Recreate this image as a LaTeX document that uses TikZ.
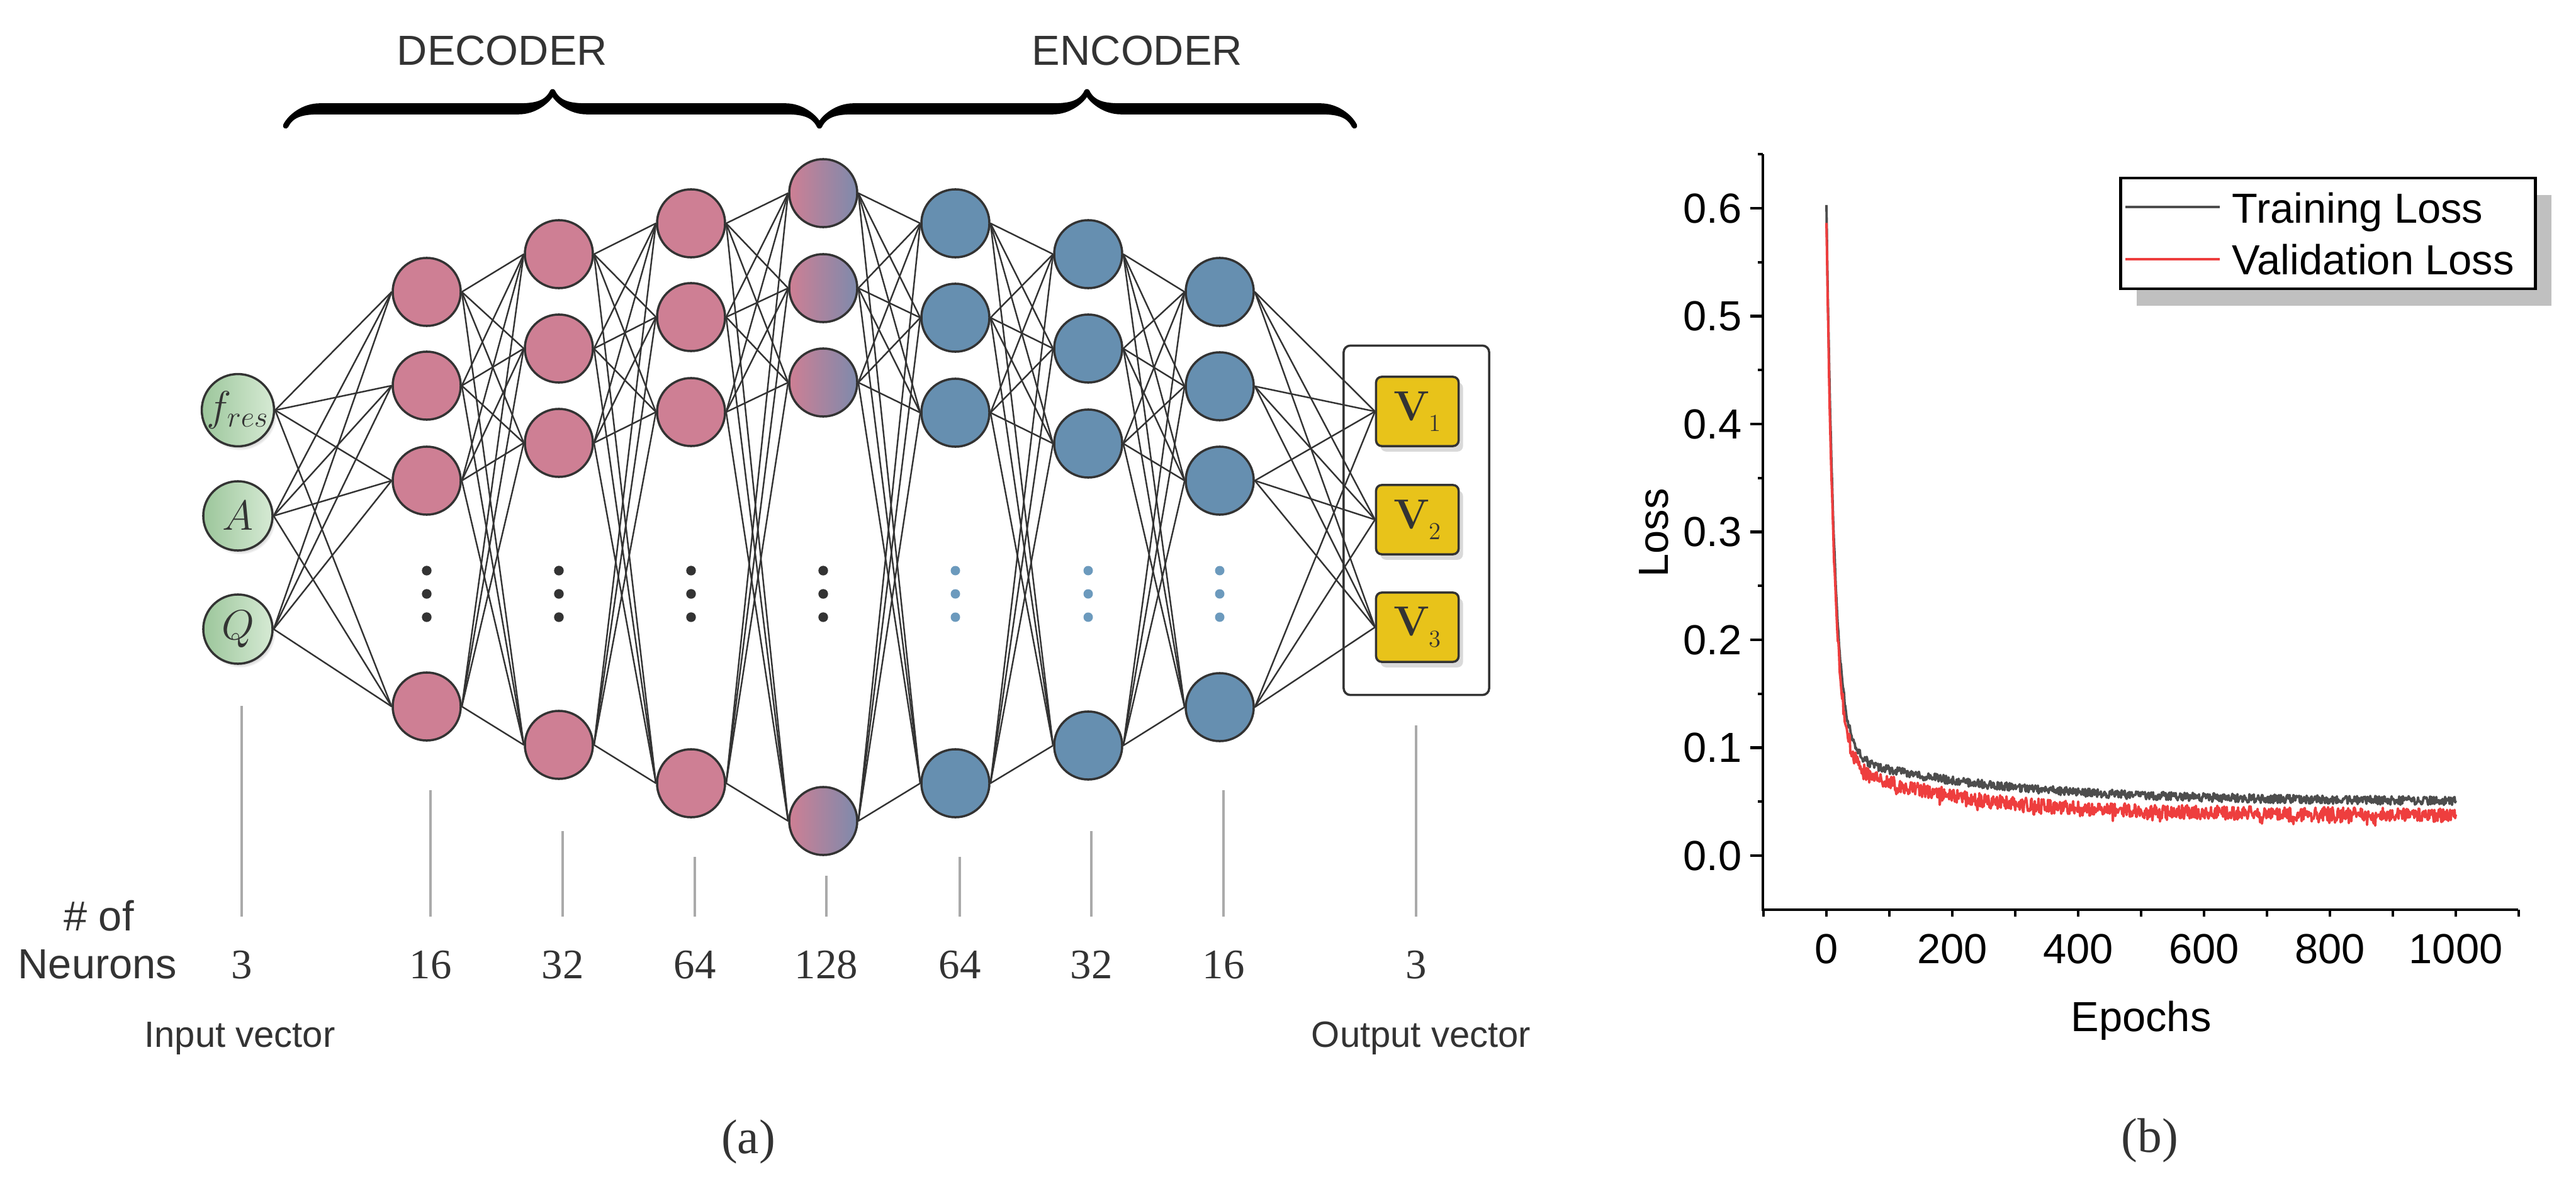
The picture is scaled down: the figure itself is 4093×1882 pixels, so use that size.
\RequirePackage{fix-cm}
\documentclass[tikz,border=0pt]{standalone}
\usepackage{amssymb, amsmath}
\usepackage{fontspec}
\usepackage{tikz}
\usetikzlibrary{decorations.pathreplacing,calligraphy,shadows}
\newfontfamily\sansfont{Liberation Sans}
\newfontfamily\capfont{Liberation Serif}
\definecolor{darkline}{HTML}{333333}
\definecolor{decpink}{HTML}{CE7F94}
\definecolor{encblue}{HTML}{668FB0}
\definecolor{midblue}{HTML}{7E8AAC}
\definecolor{ingreenL}{HTML}{9CC69B}
\definecolor{ingreenR}{HTML}{D6EAD4}
\definecolor{outyellow}{HTML}{E8C31A}
\definecolor{dotblue}{HTML}{6C9ABD}
\definecolor{guidegray}{HTML}{AAAAAA}
\definecolor{trainloss}{HTML}{4D4D4D}
\definecolor{valloss}{HTML}{EE3E3E}
\definecolor{legshadow}{HTML}{C0C0C0}
\newcommand{\vlabel}[1]{\textbf{V}\raisebox{-5pt}{\fontsize{11}{12}\selectfont #1}}
\tikzset{
  neuron/.style={circle, draw=darkline, line width=1pt, minimum size=1.08cm, inner sep=0pt},
  decneuron/.style={neuron, fill=decpink},
  encneuron/.style={neuron, fill=encblue},
  midneuron/.style={neuron, left color=decpink, right color=midblue},
  inneuron/.style={neuron, minimum size=1.1cm, left color=ingreenL, right color=ingreenR, text=darkline,
    font=\fontsize{19}{21}\selectfont,
    circular drop shadow={shadow xshift=1pt, shadow yshift=-1.5pt, shadow scale=1.02, opacity=0.45}},
  outbox/.style={draw=darkline, line width=1pt, fill=outyellow, rounded corners=2.5pt, text=darkline,
    minimum width=1.31cm, minimum height=1.1cm, inner sep=0pt, font=\fontsize{19}{22}\selectfont,
    drop shadow={shadow xshift=2pt, shadow yshift=-2.5pt, opacity=0.3}},
  link/.style={darkline, line width=0.7pt},
  guide/.style={guidegray, line width=1.3pt},
  lbl/.style={inner sep=0pt, text=darkline, font=\sansfont\fontsize{19}{22}\selectfont},
  cnt/.style={inner sep=0pt, anchor=base, text=darkline, font=\capfont\fontsize{19}{23}\selectfont},
  axlbl/.style={inner sep=0pt, font=\sansfont\fontsize{19}{22}\selectfont},
}
\begin{document}
\begin{tikzpicture}[x=0.01cm, y=-0.01cm]
\useasboundingbox (0,0) rectangle (4093,1882);
\def\ybase{1555}
%brace
\draw[decorate, decoration={calligraphic brace, amplitude=0.54cm}, line width=5pt, darkline] (454,200) -- (1302,200);
\draw[decorate, decoration={calligraphic brace, amplitude=0.54cm}, line width=5pt, darkline] (1302,200) -- (2152,200);
\node[lbl] (dec) at (798,80) {DECODER};
\node[lbl] (enc) at (1807,80) {ENCODER};
%input
\node[inneuron] (x1) at (378,652) {$f_{res}$};
\node[inneuron] (x2) at (378,820) {$A$};
\node[inneuron] (x3) at (378,1000) {$Q$};
%hidden layers
\foreach \l/\x/\ya/\yb/\yc/\yd/\sty in {1/678/464/613/764/1123/decneuron, 2/888/404/554/704/1184/decneuron,
    3/1098/355/504/655/1245/decneuron, 4/1308/307/458/608/1305/midneuron, 5/1518/355/505/656/1245/encneuron,
    6/1729/404/554/705/1185/encneuron, 7/1938/464/614/764/1124/encneuron}{
  \node[\sty] (h\l-1) at (\x,\ya) {};
  \node[\sty] (h\l-2) at (\x,\yb) {};
  \node[\sty] (h\l-3) at (\x,\yc) {};
  \node[\sty] (h\l-4) at (\x,\yd) {};
}
%dots
\foreach \x in {678,888,1098,1308} \foreach \y in {907,944,981} \fill[darkline] (\x,\y) circle (0.077cm);
\foreach \x in {1518,1729,1938} \foreach \y in {907,944,981} \fill[dotblue] (\x,\y) circle (0.075cm);
%output
\node[draw=darkline, line width=1pt, rounded corners=3pt, minimum width=2.31cm, minimum height=5.55cm] (outframe) at (2250.5,827) {};
\node[outbox] (v1) at (2252,654) {\vlabel{1}};
\node[outbox] (v2) at (2252,826) {\vlabel{2}};
\node[outbox] (v3) at (2252,997) {\vlabel{3}};
%links
\foreach \i in {1,2,3} \foreach \k in {1,...,4} \draw[link] (x\i.east) -- (h1-\k.west);
\foreach \l [evaluate=\l as \m using int(\l+1)] in {1,...,6}
  \foreach \i in {1,...,4} \foreach \k in {1,...,4} \draw[link] (h\l-\i.east) -- (h\m-\k.west);
\foreach \i in {1,...,4} \foreach \k in {1,2,3} \draw[link] (h7-\i.east) -- (v\k.west);
%neuron counts
\foreach \x/\ytop/\n [count=\c] in {384/1122/3, 684/1256/16, 894/1321/32, 1104/1362/64, 1313/1392/128,
    1525/1362/64, 1734/1321/32, 1944/1256/16, 2250/1153/3}{
  \node[cnt] (cnt\c) at (\x,\ybase) {\n};
  \draw[guide] (\x,\ytop) -- (\x,1457);
}
\node[lbl, anchor=base] (numof) at (157,1479) {\# of};
\node[lbl, anchor=base] (neur) at (155,\ybase) {Neurons};
\node[lbl, anchor=base, font=\sansfont\fontsize{16.5}{19}\selectfont] (invec) at (381,1664) {Input vector};
\node[lbl, anchor=base, font=\sansfont\fontsize{16.5}{19}\selectfont] (outvec) at (2258,1664) {Output vector};
\node[inner sep=0pt, text=darkline, font=\capfont\fontsize{22}{26}\selectfont] (capa) at (1189,1815) {(a)};
\node[inner sep=0pt, text=darkline, font=\capfont\fontsize{22}{26}\selectfont] (capb) at (3416,1813) {(b)};
%%
%loss plot
\draw[line width=1.2pt] (2801,245) -- (2801,1446) -- (4001,1446);
\foreach \v in {0,...,6}{
  \draw[line width=1.2pt] (2781,{1360-171.5*\v}) -- (2801,{1360-171.5*\v});
  \node[axlbl, anchor=east] (ytk\v) at (2768,{1360-171.5*\v}) {0.\v};
}
\foreach \v in {0,...,6} \draw[line width=1.2pt] (2793,{1274.25-171.5*\v}) -- (2801,{1274.25-171.5*\v});
\foreach \e in {-100,0,...,1100} \draw[line width=1.2pt] ({2902+\e},1446) -- ({2902+\e},1457);
\foreach \e in {0,200,...,1000} \node[axlbl, anchor=base] (xtk\e) at ({2902+\e},1531) {\e};
\node[axlbl, rotate=90] (ylab) at (2628,847) {Loss};
\node[axlbl, anchor=base] (xlab) at (3402,1639) {Epochs};
%curves
\pgfmathsetseed{4}
\draw[trainloss, line width=1.1pt, line join=round] plot[domain=0:1000, samples=1001, variable=\e]
  ({2902+\e}, {1360-1715*(0.05+0.0438*exp(-\e/250)+0.506*exp(max(-\e/13,-9))+0.004*rand)});
\draw[valloss, line width=1.1pt, line join=round] plot[domain=0:1000, samples=1001, variable=\e]
  ({2902+\e}, {1360-1715*(0.0375+0.0495*exp(-\e/200)+0.503*exp(max(-\e/12.5,-9))+0.0065*rand-0.005*rnd^6)});
%legend
\fill[legshadow] (3395,310) rectangle (4054,486);
\draw[line width=1.4pt, fill=white] (3369,283) rectangle (4028,459);
\coordinate (lt1) at (3377,329); \coordinate (lt2) at (3527,329);
\coordinate (lv1) at (3377,412); \coordinate (lv2) at (3527,412);
\draw[trainloss, line width=1.2pt] (lt1) -- (lt2);
\draw[valloss, line width=1.2pt] (lv1) -- (lv2);
\node[axlbl, anchor=base west] (legt) at (3546,354) {Training Loss};
\node[axlbl, anchor=base west] (legv) at (3546,436) {Validation Loss};
\end{tikzpicture}
\end{document}
